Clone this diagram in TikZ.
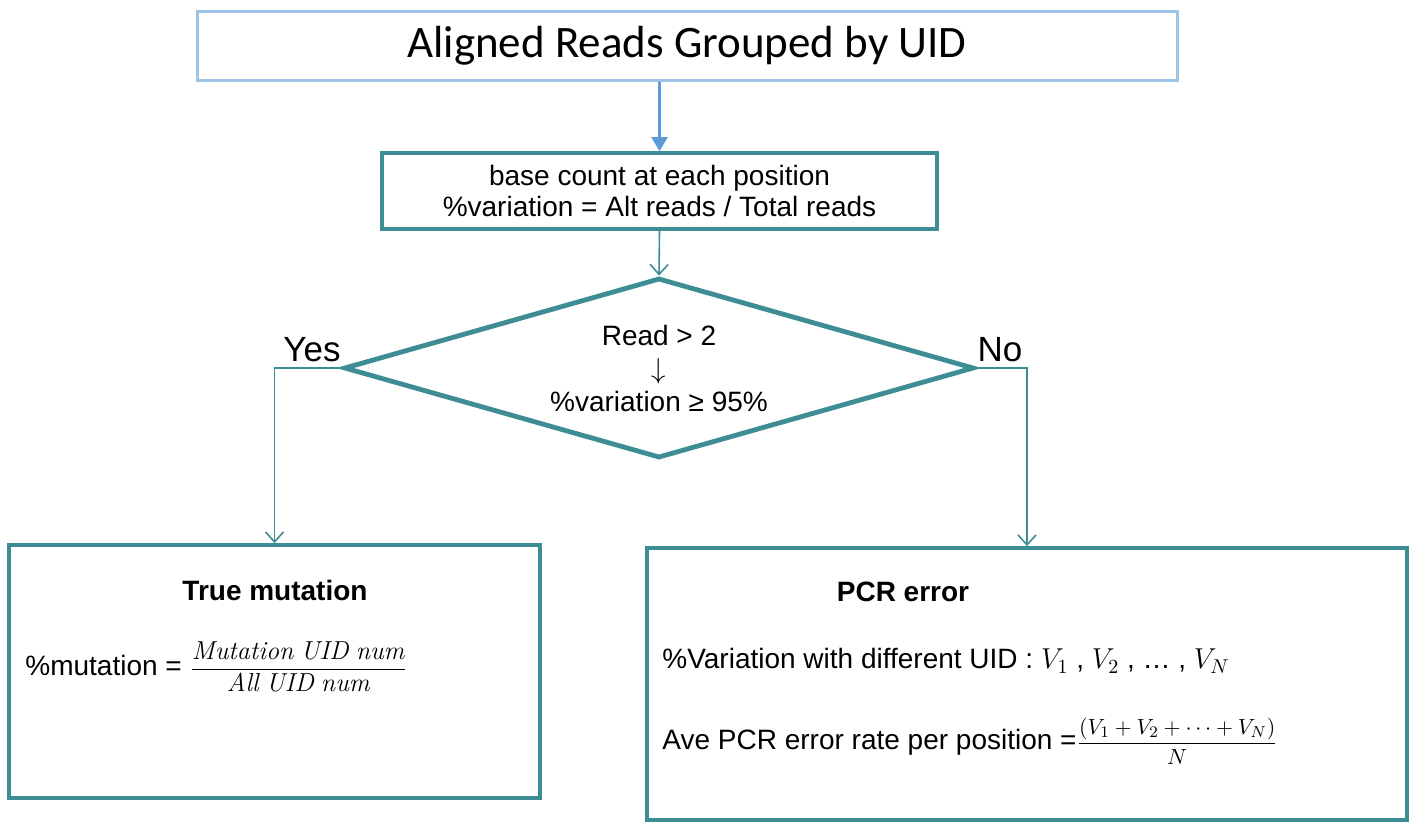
\documentclass[tikz,border=0pt]{standalone}
\usepackage{amsmath}
\usepackage{fontspec}
\newfontfamily\arial{Liberation Sans}
\newfontfamily\calibri{Carlito}
\usetikzlibrary{arrows.meta,shapes.geometric}
\definecolor{tealc}{RGB}{62,140,148}
\definecolor{lblue}{RGB}{157,195,230}
\definecolor{mblue}{RGB}{91,155,213}
\tikzset{
  topbox/.style={draw=lblue,line width=1.5pt,fill=white,inner sep=0pt},
  tbox/.style={draw=tealc,line width=1.9pt,fill=white,inner sep=0pt},
  conn/.style={draw=tealc,line width=0.8pt,-{Straight Barb[length=5pt,width=9pt,line width=0.8pt]}},
  bconn/.style={draw=mblue,line width=1.2pt,-{Triangle[length=7pt,width=8pt]}},
  lbl/.style={font=\arial\fontsize{14}{15.5}\selectfont,align=center,inner sep=0pt},
}
\begin{document}
\begin{tikzpicture}[x=0.5pt,y=-0.5pt]
\useasboundingbox (0,0) rectangle (1410,821);
\fill[white] (0,0) rectangle (1410,821);

\node[topbox,minimum width=490pt,minimum height=34.5pt,font=\calibri\fontsize{22.5}{26}\selectfont] (top) at (687,45.5) {Aligned Reads Grouped by UID};

\node[tbox,minimum width=277.5pt,minimum height=38pt,lbl] (count) at (659.5,191) {base count at each position\\\%variation = Alt reads / Total reads};

\node[draw=tealc,line width=2.4pt,diamond,minimum width=315pt,minimum height=90pt,inner sep=0pt] (dia) at (659,368) {};
\node[lbl,font=\arial\fontsize{14}{16.5}\selectfont] (diatext) at (659,368) {Read > 2\\$\downarrow$\\\%variation ≥ 95\%};

\node[tbox,minimum width=265.5pt,minimum height=126.5pt] (left) at (274.5,671.5) {};
\node[tbox,minimum width=380pt,minimum height=136pt] (right) at (1027,684) {};

\draw[bconn] (count.north |- top.south) -- (count.north);
\draw[conn] (count.south) -- (dia.north);
\draw[conn] (dia.west) -| (left.north);
\draw[conn] (dia.east) -| (right.north);

\node[font=\arial\fontsize{17.5}{19}\selectfont,inner sep=0pt] (yes) at (312,350) {Yes};
\node[font=\arial\fontsize{17.5}{19}\selectfont,inner sep=0pt] (no) at (1000,350) {No};

\node[font=\arial\bfseries\fontsize{14}{16}\selectfont,inner sep=0pt] (ttitle) at (275,590) {True mutation};
\node[font=\arial\fontsize{14}{16}\selectfont,inner sep=0pt,anchor=west] (mut) at (25,667) {\%mutation = {\fontsize{13}{15}\selectfont$\dfrac{\mathit{Mutation\ UID\ num}}{\mathit{All\ UID\ num}}$}};

\node[font=\arial\bfseries\fontsize{14}{16}\selectfont,inner sep=0pt] (ptitle) at (903,592) {PCR error};
\node[font=\arial\fontsize{14}{16}\selectfont,inner sep=0pt,anchor=west] (var) at (662,661) {\%Variation with different UID : $V_1$ , $V_2$ , \dots\ , $V_N$};
\node[font=\arial\fontsize{14}{16}\selectfont,inner sep=0pt,anchor=west] (ave) at (662,741) {Ave PCR error rate per position ={\fontsize{11}{13}\selectfont$\dfrac{(V_1 + V_2 +\cdots+ V_N)}{N}$}};
\end{tikzpicture}
\end{document}
